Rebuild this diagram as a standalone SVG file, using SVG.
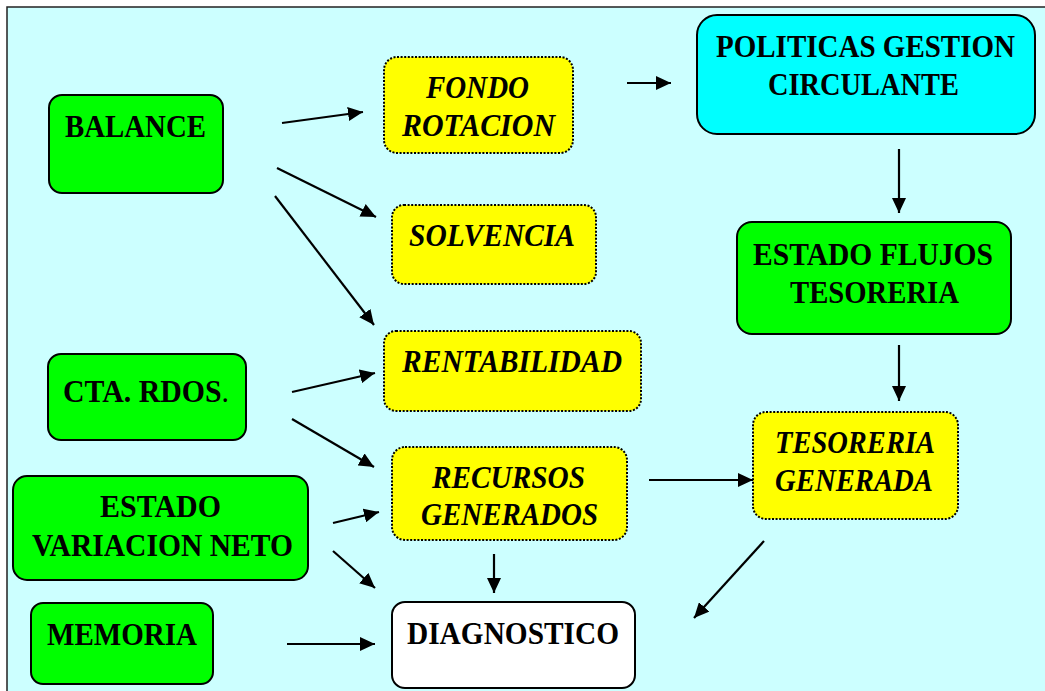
<svg xmlns="http://www.w3.org/2000/svg" width="1045" height="691" viewBox="0 0 1045 691">
<defs>
<marker id="ah" markerUnits="userSpaceOnUse" markerWidth="16" markerHeight="14" refX="15" refY="7" orient="auto">
<path d="M0,0 L15,7 L0,14 z" fill="#000"/>
</marker>
</defs>
<style>
.t{font-family:"Liberation Serif","Times New Roman",serif;font-weight:bold;font-size:32.5px;fill:#000}
.i{font-style:italic}
.g{fill:#00ff00;stroke:#000;stroke-width:2}
.y{fill:#ffff00;stroke:#000;stroke-width:2;stroke-dasharray:2 1.6}
.c{fill:#00ffff;stroke:#000;stroke-width:2}
.w{fill:#fff;stroke:#000;stroke-width:2}
.a{stroke:#000;stroke-width:2.2;fill:none;marker-end:url(#ah)}
</style>
<rect x="0" y="0" width="1045" height="691" fill="#fff"/>
<rect x="7" y="7" width="1050" height="700" fill="#ccffff" stroke="#222" stroke-width="1.5"/>
<g id="connectors">
<line class="a" x1="282" y1="123" x2="363" y2="112"/>
<line class="a" x1="277" y1="168" x2="376" y2="217"/>
<line class="a" x1="275" y1="196" x2="374" y2="325"/>
<line class="a" x1="627" y1="83" x2="671" y2="83"/>
<line class="a" x1="899" y1="149" x2="899" y2="213"/>
<line class="a" x1="899" y1="345" x2="899" y2="401"/>
<line class="a" x1="292" y1="392" x2="375" y2="373"/>
<line class="a" x1="292" y1="419" x2="374" y2="467"/>
<line class="a" x1="649" y1="480" x2="753" y2="480"/>
<line class="a" x1="333" y1="523" x2="379" y2="512"/>
<line class="a" x1="333" y1="551" x2="375" y2="588"/>
<line class="a" x1="494" y1="554" x2="494" y2="593"/>
<line class="a" x1="764" y1="541" x2="694" y2="618"/>
<line class="a" x1="287" y1="644" x2="375" y2="644"/>
</g>
<g id="balance">
<rect class="g" x="49" y="95" width="174" height="98" rx="13"/>
<text class="t" x="65" y="137" textLength="141" lengthAdjust="spacingAndGlyphs">BALANCE</text>
</g>
<g id="fondo-rotacion">
<rect class="y" x="384" y="57" width="189" height="96" rx="13"/>
<text class="t i" x="426" y="98" textLength="103" lengthAdjust="spacingAndGlyphs">FONDO</text>
<text class="t i" x="402" y="136" textLength="153" lengthAdjust="spacingAndGlyphs">ROTACION</text>
</g>
<g id="politicas">
<rect class="c" x="697" y="15" width="338" height="119" rx="20"/>
<text class="t" x="716" y="57" textLength="299" lengthAdjust="spacingAndGlyphs">POLITICAS GESTION</text>
<text class="t" x="768" y="95" textLength="191" lengthAdjust="spacingAndGlyphs">CIRCULANTE</text>
</g>
<g id="solvencia">
<rect class="y" x="392" y="205" width="204" height="79" rx="12"/>
<text class="t i" x="409" y="246" textLength="166" lengthAdjust="spacingAndGlyphs">SOLVENCIA</text>
</g>
<g id="estado-flujos">
<rect class="g" x="737" y="222" width="274" height="112" rx="15"/>
<text class="t" x="753" y="265" textLength="240" lengthAdjust="spacingAndGlyphs">ESTADO FLUJOS</text>
<text class="t" x="790" y="303" textLength="169" lengthAdjust="spacingAndGlyphs">TESORERIA</text>
</g>
<g id="rentabilidad">
<rect class="y" x="384" y="331" width="257" height="80" rx="12"/>
<text class="t i" x="402" y="372" textLength="220" lengthAdjust="spacingAndGlyphs">RENTABILIDAD</text>
</g>
<g id="cta-rdos">
<rect class="g" x="48" y="354" width="198" height="86" rx="13"/>
<text class="t" x="63" y="402" textLength="166" lengthAdjust="spacingAndGlyphs">CTA. RDOS<tspan font-weight="normal">.</tspan></text>
</g>
<g id="recursos">
<rect class="y" x="392" y="447" width="235" height="93" rx="13"/>
<text class="t i" x="432" y="488" textLength="153" lengthAdjust="spacingAndGlyphs">RECURSOS</text>
<text class="t i" x="421" y="525" textLength="177" lengthAdjust="spacingAndGlyphs">GENERADOS</text>
</g>
<g id="tesoreria-generada">
<rect class="y" x="753" y="412" width="205" height="107" rx="13"/>
<text class="t i" x="775" y="453" textLength="160" lengthAdjust="spacingAndGlyphs">TESORERIA</text>
<text class="t i" x="775" y="491" textLength="158" lengthAdjust="spacingAndGlyphs">GENERADA</text>
</g>
<g id="estado-variacion">
<rect class="g" x="13" y="476" width="295" height="104" rx="14"/>
<text class="t" x="100" y="517" textLength="121" lengthAdjust="spacingAndGlyphs">ESTADO</text>
<text class="t" x="32" y="556" textLength="261" lengthAdjust="spacingAndGlyphs">VARIACION NETO</text>
</g>
<g id="memoria">
<rect class="g" x="31" y="603" width="182" height="81" rx="12"/>
<text class="t" x="47" y="645" textLength="150" lengthAdjust="spacingAndGlyphs">MEMORIA</text>
</g>
<g id="diagnostico">
<rect class="w" x="392" y="602" width="243" height="86" rx="13"/>
<text class="t" x="407" y="644" textLength="212" lengthAdjust="spacingAndGlyphs">DIAGNOSTICO</text>
</g>
</svg>
